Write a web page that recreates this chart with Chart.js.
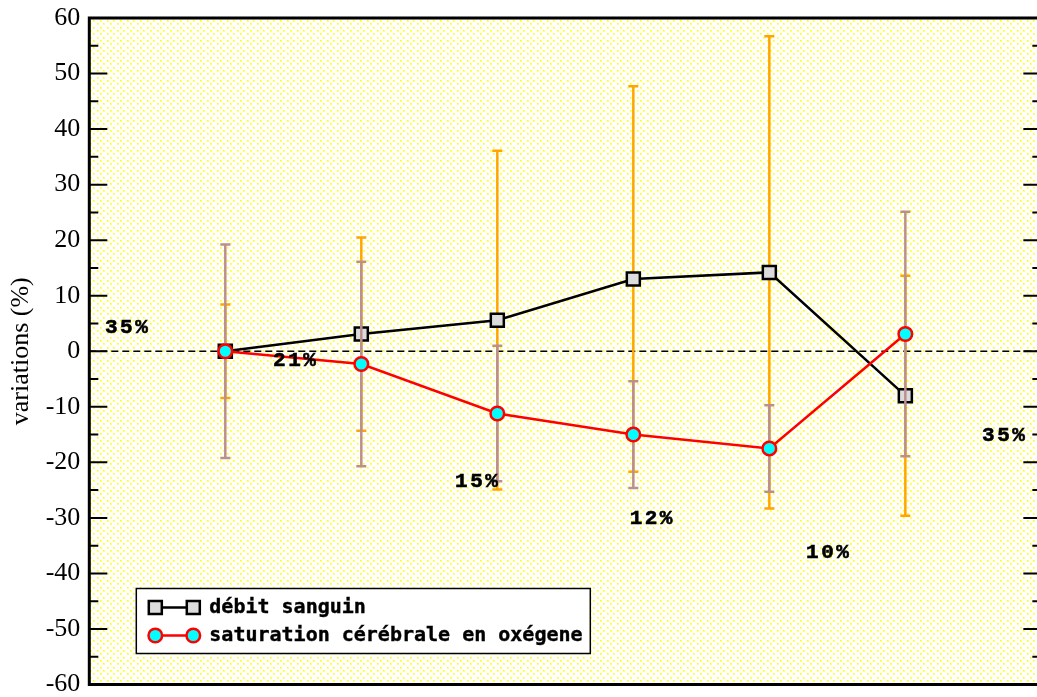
<!DOCTYPE html>
<html><head><meta charset="utf-8">
<script src="https://cdn.jsdelivr.net/npm/chart.js@4/dist/chart.umd.min.js"></script>
<style>
html,body{margin:0;padding:0;overflow:hidden;background:#fff;width:1037px;height:697px}
#wrap{width:1037px;height:697px;position:relative;overflow:hidden}
canvas{display:block}
</style>
</head><body>
<div id="wrap"><canvas id="c" width="1037" height="697"></canvas></div>
<script>
// ---- data ----
const positions = [1, 2, 3, 4, 5, 6];
const debitLabel = 'débit sanguin';
const satLabel = 'saturation cérébrale en oxégene';
const debit = [0, 3.1, 5.6, 13.0, 14.2, -8.0];
const debitErr = [8.4, 17.4, 30.5, 34.7, 42.5, 21.6];
const sat = [0, -2.3, -11.2, -15.0, -17.5, 3.1];
const satErr = [19.2, 18.4, 12.2, 9.6, 7.8, 22.0];
const noteTexts = ['35%', '21%', '15%', '12%', '10%', '35%'];
const noteX = [0.115, 1.351, 2.689, 3.973, 5.27, 6.564];
const noteY = [3.3, -2.66, -24.44, -31.1, -37.3, -16.1];
const yMin = -60, yMax = 60, yStep = 5, yLabelStep = 10;
const xMin = 0, xMax = 6.968;   // visible part of the x range
const xFrameMax = 7;            // right frame (just off the picture)
const yTitle = 'variations (%)';

// ---- plugins ----
function makePattern(ctx) {
  const t = document.createElement('canvas');
  t.width = 20; t.height = 20;
  const g = t.getContext('2d');
  g.fillStyle = '#ffffff'; g.fillRect(0, 0, 20, 20);
  const ys = [0, 3, 7, 10, 13, 17];
  ys.forEach((y, i) => {
    const xs = (i % 2) ? [3, 10, 17] : [0, 7, 13];
    xs.forEach(x => {
      g.fillStyle = '#ffff70'; g.fillRect(x, y, 2, 2);
      g.fillStyle = '#ffff00'; g.fillRect(x, y, 1, 1);
    });
  });
  return ctx.createPattern(t, 'repeat');
}

const bgPlugin = {
  id: 'bg',
  beforeDraw(chart) {
    const {ctx, chartArea: a} = chart;
    ctx.save();
    ctx.fillStyle = makePattern(ctx);
    ctx.fillRect(a.left, a.top, a.right - a.left, a.bottom - a.top);
    ctx.restore();
  }
};

const errPlugin = {
  id: 'errbars',
  beforeDatasetDraw(chart, args) {
    const ds = chart.data.datasets[args.index];
    if (!ds.errors) return;
    const ctx = chart.ctx, ys = chart.scales.y;
    ctx.save();
    ctx.strokeStyle = ds.errorColor;
    ctx.lineWidth = 2.5;
    args.meta.data.forEach((pt, i) => {
      const v = ds.data[i].y, e = ds.errors[i];
      const x = pt.x;
      const y1 = ys.getPixelForValue(v + e), y2 = ys.getPixelForValue(v - e);
      ctx.beginPath();
      ctx.moveTo(x, y1); ctx.lineTo(x, y2);
      ctx.moveTo(x - 5, y1); ctx.lineTo(x + 5, y1);
      ctx.moveTo(x - 5, y2); ctx.lineTo(x + 5, y2);
      ctx.stroke();
    });
    ctx.restore();
  }
};

const notesPlugin = {
  id: 'notes',
  afterDatasetsDraw(chart) {
    const ctx = chart.ctx, xs = chart.scales.x, ys = chart.scales.y;
    ctx.save();
    ctx.font = 'bold 21px "Liberation Mono"';
    ctx.letterSpacing = '2.5px';
    ctx.fillStyle = '#000';
    ctx.strokeStyle = '#000';
    ctx.lineWidth = 0.6;
    ctx.textAlign = 'left';
    ctx.textBaseline = 'alphabetic';
    noteTexts.forEach((t, i) => {
      const x = xs.getPixelForValue(noteX[i]), y = ys.getPixelForValue(noteY[i]);
      ctx.fillText(t, x, y);
      ctx.strokeText(t, x, y);
    });
    ctx.restore();
  }
};

const framePlugin = {
  id: 'frame',
  afterDraw(chart) {
    const {ctx, chartArea: a} = chart;
    const ys = chart.scales.y, xs = chart.scales.x;
    const right = xs.getPixelForValue(xFrameMax);
    ctx.save();
    ctx.strokeStyle = '#000';
    ctx.lineWidth = 2;
    ys.ticks.forEach(t => {
      const y = ys.getPixelForValue(t.value);
      const len = (Math.abs(t.value) % yLabelStep === 0) ? 18 : 9;
      ctx.beginPath();
      ctx.moveTo(a.left, y); ctx.lineTo(a.left + len, y);
      ctx.moveTo(right, y); ctx.lineTo(right - len, y);
      ctx.stroke();
    });
    ctx.lineWidth = 3;
    ctx.strokeRect(a.left, a.top, right - a.left, a.bottom - a.top);

    // legend
    const lx = a.left + 47, ly = a.bottom - 96, lw = 454, lh = 65;
    ctx.fillStyle = '#fff';
    ctx.fillRect(lx, ly, lw, lh);
    ctx.lineWidth = 1.5;
    ctx.strokeStyle = '#000';
    ctx.strokeRect(lx, ly, lw, lh);
    const items = [chart.data.datasets[1], chart.data.datasets[2]];
    items.forEach((ds, i) => {
      const cy = ly + 19 + i * 28;
      const x1 = lx + 19, x2 = lx + 57;
      ctx.strokeStyle = ds.borderColor;
      ctx.lineWidth = ds.borderWidth;
      ctx.beginPath(); ctx.moveTo(x1, cy); ctx.lineTo(x2, cy); ctx.stroke();
      ctx.fillStyle = ds.pointBackgroundColor;
      ctx.strokeStyle = ds.pointBorderColor;
      ctx.lineWidth = ds.pointBorderWidth;
      const opts = {pointStyle: ds.pointStyle, radius: ds.pointRadius, borderWidth: ds.pointBorderWidth, rotation: 0};
      Chart.helpers.drawPoint(ctx, opts, x1, cy);
      Chart.helpers.drawPoint(ctx, opts, x2, cy);
      ctx.fillStyle = '#000';
      ctx.strokeStyle = '#000';
      ctx.lineWidth = 0.4;
      ctx.font = 'bold 20px "DejaVu Sans Mono"';
      ctx.textAlign = 'left';
      ctx.textBaseline = 'alphabetic';
      ctx.fillText(ds.label, lx + 73, cy + 5);
      ctx.strokeText(ds.label, lx + 73, cy + 5);
    });
    ctx.restore();
  }
};

// ---- chart ----
const ctx = document.getElementById('c').getContext('2d');
new Chart(ctx, {
  type: 'line',
  data: {
    datasets: [
      {
        label: 'zero',
        data: [{x: xMin, y: 0}, {x: xFrameMax, y: 0}],
        borderColor: '#000', borderWidth: 1.6, borderDash: [7, 4],
        pointRadius: 0, order: 3
      },
      {
        label: debitLabel,
        data: positions.map((x, i) => ({x, y: debit[i]})),
        borderColor: '#000', borderWidth: 2.5,
        pointStyle: 'rect', pointRadius: 9.2,
        pointBackgroundColor: '#dcdcdc', pointBorderColor: '#000', pointBorderWidth: 2.5,
        errors: debitErr, errorColor: '#ffa500',
        order: 2
      },
      {
        label: satLabel,
        data: positions.map((x, i) => ({x, y: sat[i]})),
        borderColor: '#ff0000', borderWidth: 2.5,
        pointStyle: 'circle', pointRadius: 6.8,
        pointBackgroundColor: '#00ffff', pointBorderColor: '#ff0000', pointBorderWidth: 2.5,
        errors: satErr, errorColor: '#bc8f8f',
        order: 1
      }
    ]
  },
  options: {
    responsive: false,
    animation: false,
    devicePixelRatio: 1,
    layout: {autoPadding: false, padding: {left: 0, top: 18, right: 0, bottom: 12.5}},
    plugins: {legend: {display: false}, tooltip: {enabled: false}},
    elements: {line: {tension: 0}},
    scales: {
      x: {type: 'linear', min: xMin, max: xMax, display: false},
      y: {
        type: 'linear', min: yMin, max: yMax, position: 'left',
        afterFit(s) { s.width = 89.3; s.paddingTop = 0; s.paddingBottom = 0; },
        ticks: {
          stepSize: yStep, autoSkip: false,
          callback: (v) => (Math.abs(v) % yLabelStep === 0 ? String(v) : ''),
          font: {family: 'Liberation Serif', size: 26, lineHeight: 0.9},
          color: '#000', padding: 9
        },
        grid: {display: false, drawTicks: false},
        border: {display: false},
        title: {
          display: true, text: yTitle,
          font: {family: 'Liberation Serif', size: 26, lineHeight: 1.2},
          color: '#000', padding: {top: 6, bottom: 0}
        }
      }
    }
  },
  plugins: [bgPlugin, errPlugin, notesPlugin, framePlugin]
});
</script>
</body></html>
